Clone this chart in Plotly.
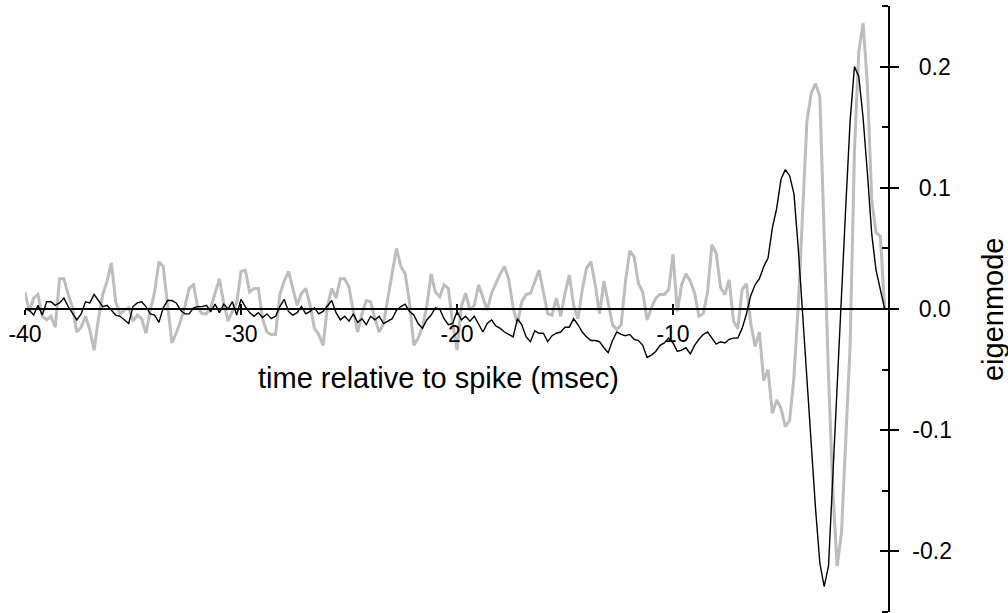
import numpy as np
import plotly.graph_objects as go

# time grid (ms relative to spike), 0.2 ms sampling
time_ms = np.round(np.arange(-40.0, 0.0, 0.2), 1)

grey_mode = [
    0.014, -0.002, 0.009, 0.012, -0.006, -0.009, -0.006, -0.015, 0.025, 0.025,
    0.012, 0.001, -0.019, -0.015, -0.006, -0.017, -0.034, -0.008, 0.012, 0.023,
    0.038, 0.006, -0.004, -0.001, 0.001, -0.010, -0.005, -0.008, -0.020, -0.001,
    0.014, 0.039, 0.035, 0.006, -0.028, -0.020, -0.010, 0.002, 0.017, 0.020, 0.001,
    -0.004, -0.004, 0.001, 0.012, 0.025, 0.005, -0.010, -0.002, 0.005, 0.031,
    0.032, 0.014, 0.017, 0.017, -0.008, -0.019, -0.021, -0.021, 0.012, 0.023,
    0.031, 0.017, 0.003, 0.013, 0.017, 0.003, -0.016, -0.021, -0.030, 0.002,
    0.017, 0.009, 0.025, 0.025, 0.018, -0.002, -0.019, -0.004, 0.007, 0.006,
    -0.008, -0.019, -0.012, 0.009, 0.031, 0.050, 0.035, 0.029, 0.006, -0.030,
    -0.024, -0.015, 0.002, 0.029, 0.014, 0.010, 0.020, 0.017, -0.012, -0.034,
    0.002, 0.013, -0.001, 0.003, 0.020, 0.009, -0.001, 0.013, 0.021, 0.029,
    0.035, 0.024, 0.001, -0.012, 0.006, 0.012, 0.013, 0.023, 0.032, 0.014,
    -0.004, -0.005, 0.009, -0.006, 0.013, 0.028, 0.003, -0.008, 0.016, 0.034,
    0.039, 0.020, -0.004, 0.023, 0.006, -0.013, -0.017, -0.013, 0.023, 0.048,
    0.043, 0.021, 0.014, -0.009, 0.001, 0.009, 0.012, 0.012, 0.016, 0.045,
    -0.002, 0.020, 0.029, 0.023, 0.013, -0.006, -0.004, 0.014, 0.053, 0.046,
    0.018, 0.012,
    0.024, -0.010, -0.016, 0.016, 0.021, -0.012, -0.031, -0.019, -0.059, -0.050,
    -0.086, -0.075, -0.082, -0.097, -0.092, -0.056, 0.003, 0.075, 0.155, 0.178,
    0.186, 0.175, 0.050, -0.055, -0.150, -0.212, -0.185, -0.110, -0.030, 0.130,
    0.212, 0.236, 0.185, 0.090, 0.063, 0.060, 0.0,
]

black_mode = [
    0.0, -0.001, -0.005, 0.003, -0.005, 0.006, 0.006, 0.003, 0.005, 0.009,
    0.002, -0.004, -0.009, -0.004, 0.006, 0.005, 0.012, 0.007, 0.002, 0.003,
    -0.001, -0.005, -0.006, -0.009, -0.012, 0.002, 0.005, 0.006, 0.002, -0.004,
    -0.005, -0.011, 0.001, 0.007, 0.007, 0.005, -0.001, -0.004, -0.004, 0.001, 0.002,
    0.002, 0.003, -0.002, 0.004, -0.003, 0.004, 0.000, 0.006, -0.005, 0.008,
    0.002, -0.003, -0.006, -0.003, -0.007, -0.004, -0.008, -0.006, 0.002, 0.008,
    -0.002, -0.005, -0.003, 0.002, -0.004, -0.002, 0.001, -0.004, -0.002, 0.003,
    0.007, -0.003, -0.009, -0.006, -0.010, -0.004, -0.011, -0.008, -0.013, -0.006,
    -0.009, -0.006, -0.012, -0.010, -0.008, -0.001, 0.002, 0.004, -0.002, -0.005,
    -0.012, -0.016, -0.009, -0.005, 0.001, 0.000, -0.008, -0.013, -0.012, -0.002,
    -0.009, -0.006, -0.010, -0.006, -0.012, -0.019, -0.012, -0.009, -0.014, -0.016,
    -0.019, -0.021, -0.023, -0.008, -0.013, -0.023, -0.027, -0.018, -0.020, -0.020,
    -0.027, -0.022, -0.020, -0.019, -0.015, -0.015, -0.008, -0.013, -0.019, -0.023,
    -0.026, -0.026, -0.027, -0.032, -0.036, -0.026, -0.019, -0.021, -0.022, -0.021,
    -0.025, -0.026, -0.030, -0.040, -0.038, -0.035, -0.030, -0.028, -0.024, -0.028,
    -0.035, -0.034, -0.032, -0.037, -0.030, -0.025, -0.021, -0.019, -0.024, -0.029,
    -0.027, -0.028,
    -0.025, -0.024, -0.024, -0.016, -0.004, 0.011, 0.020, 0.025, 0.035, 0.042,
    0.067, 0.083, 0.107, 0.115, 0.110, 0.095, 0.050, -0.003, -0.063, -0.115,
    -0.165, -0.210, -0.229, -0.212, -0.135, -0.058, 0.020, 0.085, 0.155, 0.200,
    0.192, 0.158, 0.112, 0.062, 0.032, 0.016, 0.0,
]

x_tick_vals = [-40, -30, -20, -10]
x_tick_text = ["-40", "-30", "-20", "-10"]
y_tick_vals = [-0.2, -0.1, 0.0, 0.1, 0.2]
y_tick_text = ["-0.2", "-0.1", "\u20080.0", "\u20080.1", "\u20080.2"]

FONT = "Liberation Sans, Arial, Helvetica, sans-serif"

fig = go.Figure()
fig.add_trace(go.Scatter(x=time_ms, y=grey_mode, mode="lines",
                         line=dict(color="#bdbdbd", width=3), hoverinfo="skip"))
fig.add_trace(go.Scatter(x=time_ms, y=black_mode, mode="lines",
                         line=dict(color="black", width=1.4), hoverinfo="skip"))
fig.add_trace(go.Scatter(x=[], y=[], xaxis="x2", yaxis="y2", showlegend=False))

axis_common = dict(showgrid=False, zeroline=False, tickcolor="black", tickwidth=1.5,
                   automargin=False)

fig.update_layout(
    width=1008, height=613,
    margin=dict(l=25, r=119, t=6, b=1),
    plot_bgcolor="white", paper_bgcolor="white",
    showlegend=False,
    font=dict(family=FONT, size=23, color="black"),
    xaxis=dict(range=[-40, 0], anchor="free", position=0.5, showline=True,
               linecolor="black", linewidth=1.5, ticks="outside", ticklen=5,
               tickvals=x_tick_vals, ticktext=x_tick_text, **axis_common),
    xaxis2=dict(range=[-40, 0], overlaying="x", anchor="free", position=0.5,
                showline=False, ticks="inside", ticklen=5, tickvals=x_tick_vals,
                showticklabels=False, **axis_common),
    yaxis=dict(range=[-0.25, 0.25], side="right", anchor="free", position=1,
               showline=True, linecolor="black", linewidth=1.5,
               ticks="outside", ticklen=9, tickvals=y_tick_vals, ticktext=y_tick_text,
               ticklabelstandoff=9,
               minor=dict(ticks="inside", ticklen=6, dtick=0.05, tick0=0,
                          tickcolor="black", tickwidth=1.5),
               **axis_common),
    yaxis2=dict(range=[-0.25, 0.25], overlaying="y", side="right", anchor="free",
                position=1, showline=False, ticks="inside", ticklen=9,
                tickvals=y_tick_vals, showticklabels=False, **axis_common),
    annotations=[
        dict(text="time relative to spike (msec)", xref="paper", yref="paper",
             x=0.4786, y=0.386, xanchor="center", yanchor="middle",
             showarrow=False, font=dict(family=FONT, size=29, color="black")),
        dict(text="eigenmode", xref="paper", yref="paper",
             x=1.1204, y=0.5, xanchor="center", yanchor="middle", textangle=-90,
             showarrow=False, font=dict(family=FONT, size=29, color="black")),
    ],
)

fig.write_html("out.html",
               config={"displayModeBar": False},
               post_script="document.body.style.margin='0px';document.body.style.overflow='hidden';")
